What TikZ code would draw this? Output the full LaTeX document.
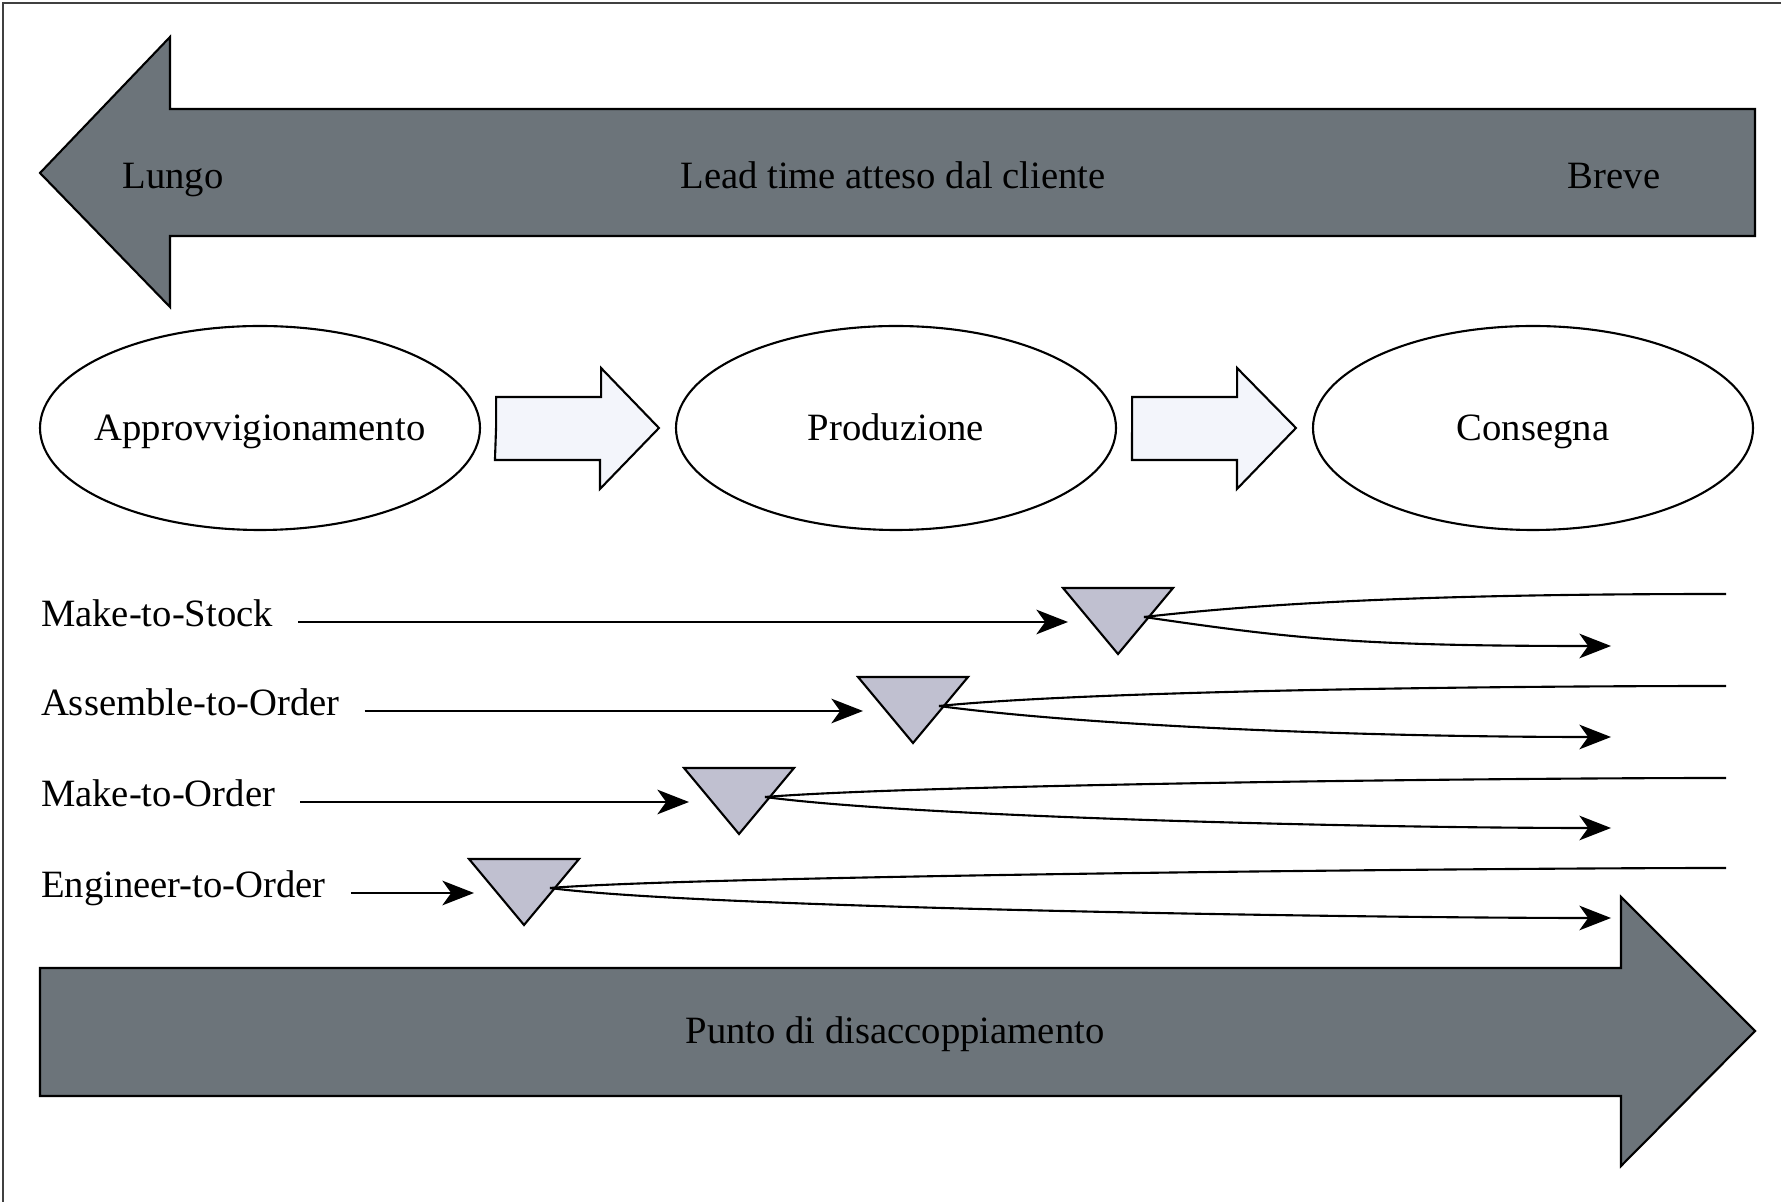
\documentclass[tikz,border=0pt]{standalone}
\usepackage{fontspec}
\setmainfont{Liberation Serif}
\usepackage{xcolor}
\usepackage{tikz}
\usetikzlibrary{calc, shapes.geometric, positioning, arrows.meta}

\definecolor{grigioscuro}{RGB}{108,116,122}
\definecolor{lilla}{RGB}{192,192,208}
\definecolor{azzurrino}{RGB}{243,245,251}

\tikzset{
    fase/.style={draw, ellipse, fill=white, minimum width=4.4cm, minimum height=2.04cm, inner sep=0pt},
    every label/.style={text height=1.6ex, text depth=0ex},
    testo/.style={text height=1.6ex, text depth=0ex},
    freccia scura/.style={draw, fill=grigioscuro},
    freccia chiara/.style={draw, fill=azzurrino},
    disacc/.style={draw, fill=lilla},
    strategia/.style={anchor=west, inner sep=0pt, text height=1.5ex, text depth=0.9ex}
}

\begin{document}
\begin{tikzpicture}[>={Stealth[length=9pt,width=7pt,inset=2.5pt]}, font=\fontsize{11}{13}\selectfont, line width=0.6pt]
    % Dimensioni della figura e cornice
    \useasboundingbox (0,0) rectangle (17.81,-12.02);
    \draw[line width=0.8pt, black!75] (0.03,-12.02) |- (17.81,-0.03);

    % Freccia del lead time atteso dal cliente
    \draw[freccia scura] (0.40,-1.73) -- (1.70,-0.37) -- (1.70,-1.09) -- (17.55,-1.09)
        -- (17.55,-2.36) -- (1.70,-2.36) -- (1.70,-3.07) -- cycle;
    \node[testo] (lungo) at (1.73,-1.76) {Lungo};
    \node[testo] (leadtime) at (8.93,-1.76) {Lead time atteso dal cliente};
    \node[testo] (breve) at (16.14,-1.76) {Breve};

    % Fasi del processo
    \node[fase, label=center:Approvvigionamento] (appr) at (2.60,-4.28) {};
    \node[fase, label=center:Produzione] (prod) at (8.96,-4.28) {};
    \node[fase, label=center:Consegna] (cons) at (15.33,-4.28) {};

    % Frecce chiare tra le fasi
    \draw[freccia chiara] ($(appr.east)+(0.15,0)$) -- ++(0,0.31) -- ++(1.05,0) -- ++(0,0.29)
        -- ($(prod.west)+(-0.16,0)$) -- ++(-0.59,-0.61) -- ++(0,0.29) -- ++(-1.05,0) -- cycle;
    \draw[freccia chiara] ($(prod.east)+(0.15,0)$) -- ++(0,0.31) -- ++(1.05,0) -- ++(0,0.29)
        -- ($(cons.west)+(-0.16,0)$) -- ++(-0.59,-0.61) -- ++(0,0.29) -- ++(-1.05,0) -- cycle;

    % Strategie produttive
    \node[strategia] (mts) at (0.40,-6.22) {Make-to-Stock};
    \node[strategia] (ato) at (0.40,-7.11) {Assemble-to-Order};
    \node[strategia] (mto) at (0.40,-8.02) {Make-to-Order};
    \node[strategia] (eto) at (0.40,-8.93) {Engineer-to-Order};

    % Punti di disaccoppiamento (triangoli)
    \coordinate (t1) at (11.18,-6.22);
    \coordinate (t2) at (9.13,-7.11);
    \coordinate (t3) at (7.39,-8.02);
    \coordinate (t4) at (5.24,-8.93);
    \draw[disacc] (t1) ++(-0.55,0.34) -- ++(1.10,0) -- ++(-0.55,-0.66) -- cycle;
    \draw[disacc] (t2) ++(-0.55,0.34) -- ++(1.10,0) -- ++(-0.55,-0.66) -- cycle;
    \draw[disacc] (t3) ++(-0.55,0.34) -- ++(1.10,0) -- ++(-0.55,-0.66) -- cycle;
    \draw[disacc] (t4) ++(-0.55,0.34) -- ++(1.10,0) -- ++(-0.55,-0.66) -- cycle;
    \coordinate (t1in) at ($(t1)+(-0.50,0)$);
    \coordinate (t2in) at ($(t2)+(-0.50,0)$);
    \coordinate (t3in) at ($(t3)+(-0.50,0)$);
    \coordinate (t4in) at ($(t4)+(-0.50,0)$);
    \coordinate (t1out) at ($(t1)+(0.26,0.05)$);
    \coordinate (t2out) at ($(t2)+(0.26,0.05)$);
    \coordinate (t3out) at ($(t3)+(0.26,0.05)$);
    \coordinate (t4out) at ($(t4)+(0.26,0.05)$);

    % Estremi delle linee a destra
    \coordinate (u1) at (17.26,-5.94);
    \coordinate (u2) at (17.26,-6.86);
    \coordinate (u3) at (17.26,-7.78);
    \coordinate (u4) at (17.26,-8.68);
    \coordinate (l1) at (16.11,-6.46);
    \coordinate (l2) at (16.11,-7.37);
    \coordinate (l3) at (16.11,-8.28);
    \coordinate (l4) at (16.11,-9.18);

    % Collegamenti
    \draw[->, shorten <=0.24cm] (mts.east) -- (t1in);
    \draw[->, shorten <=0.24cm] (ato.east) -- (t2in);
    \draw[->, shorten <=0.24cm] (mto.east) -- (t3in);
    \draw[->, shorten <=0.24cm] (eto.east) -- (t4in);
    \draw (t1out) .. controls +(1.5,0.17) and +(-2.5,0) .. (u1);
    \draw (t2out) .. controls +(1.5,0.15) and +(-2.5,0) .. (u2);
    \draw (t3out) .. controls +(1.5,0.12) and +(-2.5,0) .. (u3);
    \draw (t4out) .. controls +(1.5,0.12) and +(-2.5,0) .. (u4);
    \draw[->] (t1out) .. controls +(1.5,-0.22) and +(-2.5,0) .. (l1);
    \draw[->] (t2out) .. controls +(1.5,-0.2) and +(-2.5,0) .. (l2);
    \draw[->] (t3out) .. controls +(1.5,-0.2) and +(-2.5,0) .. (l3);
    \draw[->] (t4out) .. controls +(1.5,-0.2) and +(-2.5,0) .. (l4);

    % Freccia del punto di disaccoppiamento
    \draw[freccia scura] (0.40,-9.68) -- (16.21,-9.68) -- (16.21,-8.97) -- (17.55,-10.31)
        -- (16.21,-11.66) -- (16.21,-10.96) -- (0.40,-10.96) -- cycle;
    \node[testo] (punto) at (8.95,-10.31) {Punto di disaccoppiamento};
\end{tikzpicture}
\end{document}
